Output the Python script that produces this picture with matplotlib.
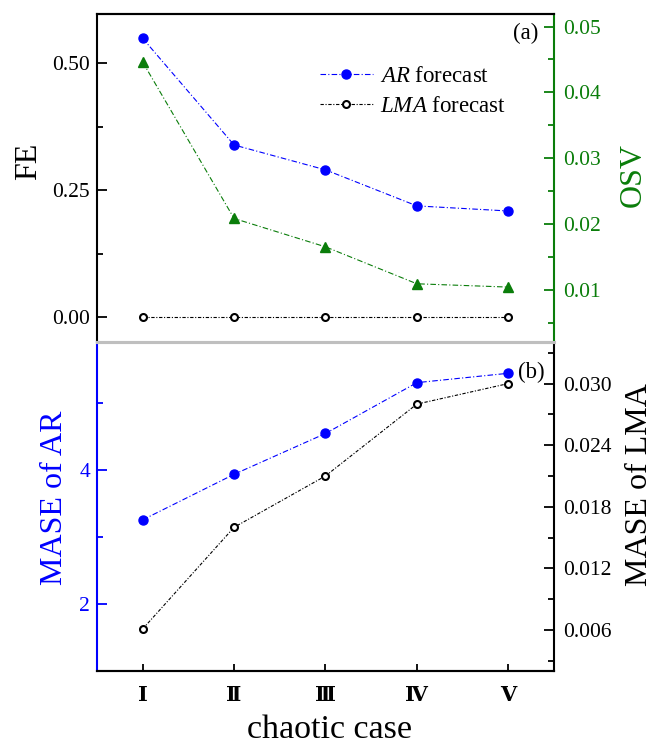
import matplotlib
matplotlib.use('Agg')
import matplotlib.pyplot as plt
from matplotlib.ticker import MultipleLocator

plt.rcParams['font.family'] = ['Liberation Serif', 'DejaVu Serif']
plt.rcParams['mathtext.fontset'] = 'custom'
plt.rcParams['mathtext.rm'] = 'Liberation Serif'
plt.rcParams['mathtext.it'] = 'Liberation Serif:italic'

# chaotic cases I..V
cases = [1, 2, 3, 4, 5]
case_labels = ['Ⅰ', 'Ⅱ', 'Ⅲ', 'Ⅳ', 'Ⅴ']

# panel (a)
fe_ar = [0.549, 0.339, 0.290, 0.219, 0.209]
fe_lma = [0.0, 0.0, 0.0, 0.0, 0.0]
osv = [0.0446, 0.0209, 0.0166, 0.0110, 0.0105]

# panel (b)
mase_ar = [3.26, 3.94, 4.55, 5.31, 5.45]
mase_lma = [0.0061, 0.0160, 0.0210, 0.0280, 0.0300]

grey = '#bfbfbf'
green = '#0a7d0a'
blue = '#0000ff'
ar_dash = (0, (5, 2, 1, 2))
lma_dash = (0, (3, 1.5, 1, 1.5))

fig = plt.figure(figsize=(6.58, 7.47), dpi=100)
ax2 = fig.add_axes([0.1474, 0.1017, 0.6945, 0.4398])
ax2r = ax2.twinx()
ax1 = fig.add_axes([0.1474, 0.5415, 0.6945, 0.4398])
ax1r = ax1.twinx()
ax1.patch.set_visible(False)
ax1r.patch.set_visible(False)

# ---- panel (a) ----
ax1.plot(cases, fe_ar, color=blue, ls=ar_dash, lw=0.8, marker='o', ms=6.5,
         label=r'$AR$ forecast', zorder=3)
ax1.plot(cases, fe_lma, color='black', ls=lma_dash, lw=0.8, marker='o', ms=5,
         mfc='white', mec='black', mew=1.5, label=r'$LMA$ forecast', zorder=3)
ax1r.plot(cases, osv, color=green, ls=ar_dash, lw=0.8, marker='^', ms=7.5)

ax1.set_xlim(0.5, 5.5)
ax1.set_ylim(-0.05, 0.597)
ax1.yaxis.set_major_locator(MultipleLocator(0.25))
ax1.yaxis.set_minor_locator(MultipleLocator(0.125))
ax1.yaxis.set_major_formatter(matplotlib.ticker.FormatStrFormatter('%.2f'))
ax1r.set_ylim(0.0021, 0.0519)
ax1r.yaxis.set_major_locator(MultipleLocator(0.01))
ax1r.yaxis.set_minor_locator(MultipleLocator(0.005))
ax1r.yaxis.set_major_formatter(matplotlib.ticker.FormatStrFormatter('%.2f'))

ax1.set_xticks([])
ax1r.set_xticks([])
ax1.tick_params(axis='y', which='both', direction='in', labelsize=15.5, pad=5, width=1.3)
ax1.tick_params(axis='y', which='major', length=7)
ax1.tick_params(axis='y', which='minor', length=4.5)
ax1r.tick_params(axis='y', which='both', direction='in', labelsize=15.5, pad=6.5,
                 width=1.3, colors=green)
ax1r.tick_params(axis='y', which='major', length=7)
ax1r.tick_params(axis='y', which='minor', length=4.5)

for s in ax1.spines.values():
    s.set_linewidth(1.5)
for s in ax1r.spines.values():
    s.set_linewidth(1.5)
ax1.spines['right'].set_visible(False)
ax1r.spines['left'].set_visible(False)
ax1.spines['bottom'].set_color(grey)
ax1r.spines['bottom'].set_color(grey)
ax1.spines['bottom'].set_linewidth(2.2)
ax1r.spines['bottom'].set_linewidth(2.2)
ax1r.spines['right'].set_color(green)

ax1.set_ylabel('FE', fontsize=23)
ax1.yaxis.set_label_coords(-0.117, 0.55)
ax1r.set_ylabel('OSV', fontsize=23, color=green)
ax1r.yaxis.set_label_coords(1.141, 0.51)

ax1.legend(loc='upper left', bbox_to_anchor=(0.488, 0.842), frameon=False,
           fontsize=16.5, borderpad=0, borderaxespad=0, handlelength=2.3,
           handletextpad=0.3, labelspacing=0.4)
ax1.text(0.965, 0.942, '(a)', transform=ax1.transAxes, fontsize=16.5,
         ha='right', va='center')

# ---- panel (b) ----
ax2.plot(cases, mase_ar, color=blue, ls=ar_dash, lw=0.8, marker='o', ms=6.5, zorder=3)
ax2r.plot(cases, mase_lma, color='black', ls=lma_dash, lw=0.8, marker='o', ms=5,
          mfc='white', mec='black', mew=1.5, zorder=3)

ax2.set_xlim(0.5, 5.5)
ax2.set_ylim(1.0, 5.91)
ax2.yaxis.set_major_locator(MultipleLocator(2))
ax2.yaxis.set_minor_locator(MultipleLocator(1))
ax2r.set_ylim(0.002, 0.034)
ax2r.yaxis.set_major_locator(MultipleLocator(0.006))
ax2r.yaxis.set_minor_locator(MultipleLocator(0.003))
ax2r.yaxis.set_major_formatter(matplotlib.ticker.FormatStrFormatter('%.3f'))

ax2.set_xticks(cases)
ax2.set_xticklabels(case_labels, fontsize=15, fontweight='bold',
                    family=['DejaVu Serif', 'DejaVu Sans', 'Noto Sans CJK SC'])
ax2.tick_params(axis='x', direction='in', length=5, width=1.3, pad=10)
ax2.tick_params(axis='y', which='both', direction='in', labelsize=15.5, pad=5,
                width=1.3, colors=blue)
ax2.tick_params(axis='y', which='major', length=7)
ax2.tick_params(axis='y', which='minor', length=4.5)
ax2r.tick_params(axis='y', which='both', direction='in', labelsize=15.5, pad=6.5, width=1.3)
ax2r.tick_params(axis='y', which='major', length=7)
ax2r.tick_params(axis='y', which='minor', length=4.5)

for s in ax2.spines.values():
    s.set_linewidth(1.5)
for s in ax2r.spines.values():
    s.set_linewidth(1.5)
ax2.spines['top'].set_visible(False)
ax2r.spines['top'].set_visible(False)
ax2.spines['right'].set_visible(False)
ax2r.spines['left'].set_visible(False)
ax2.spines['left'].set_color(blue)

ax2.set_ylabel('MASE of AR', fontsize=23, color=blue)
ax2.yaxis.set_label_coords(-0.062, 0.528)
ax2r.set_ylabel('MASE of LMA', fontsize=23)
ax2r.yaxis.set_label_coords(1.155, 0.569)
ax2.set_xlabel('chaotic case', fontsize=24.5)
ax2.xaxis.set_label_coords(0.508, -0.133)
ax2.text(0.98, 0.91, '(b)', transform=ax2.transAxes, fontsize=16.5,
         ha='right', va='center')

fig.savefig('out.png', dpi=100)
